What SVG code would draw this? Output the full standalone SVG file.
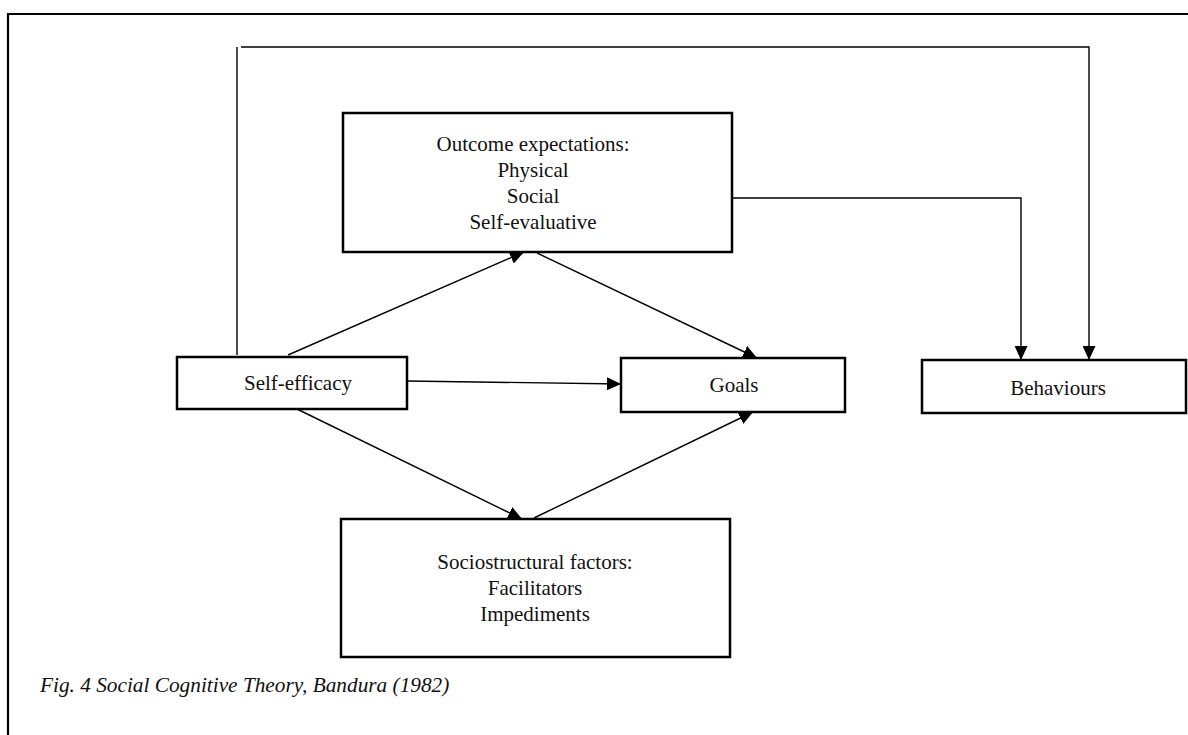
<svg xmlns="http://www.w3.org/2000/svg" width="1188" height="735" viewBox="0 0 1188 735">
  <style>
    .box { fill: #ffffff; stroke: #000000; stroke-width: 2.5; }
    .lbl { font-size: 21px; fill: #111111; text-anchor: middle; }
    .cap { font-size: 21.3px; font-style: italic; fill: #111111; }
    .conn { fill: none; stroke: #000000; stroke-width: 1.4; }
    .frame { fill: none; stroke: #000000; stroke-width: 2.2; }
  </style>
  <defs>
    <marker id="arrow" viewBox="0 0 14 13" refX="14" refY="6.5" markerWidth="14" markerHeight="13" markerUnits="userSpaceOnUse" orient="auto">
      <path d="M0,0 L14,6.5 L0,13 Z" fill="#000000"/>
    </marker>
  </defs>
  <rect width="1188" height="735" fill="#ffffff"/>
  <g id="frame">
    <path class="frame" d="M8,735 L8,14 L1188,14"/>
  </g>
  <g id="connectors">
    <path class="conn" d="M237,355 L237,47"/>
    <path class="conn" d="M241,47 L1089,47 L1089,360" marker-end="url(#arrow)"/>
    <path class="conn" d="M733,198 L1021,198 L1021,360" marker-end="url(#arrow)"/>
    <path class="conn" d="M288,355 L524,252" marker-end="url(#arrow)"/>
    <path class="conn" d="M537,253 L757,358" marker-end="url(#arrow)"/>
    <path class="conn" d="M407,381 L621,384" marker-end="url(#arrow)"/>
    <path class="conn" d="M297,409 L522,519" marker-end="url(#arrow)"/>
    <path class="conn" d="M534,518 L753,412" marker-end="url(#arrow)"/>
  </g>
  <g font-family="Liberation Serif, DejaVu Serif, serif">
    <g id="outcome">
      <rect class="box" x="343" y="113" width="389" height="139"/>
      <text class="lbl" x="533" y="151">Outcome expectations:</text>
      <text class="lbl" x="533" y="177">Physical</text>
      <text class="lbl" x="533" y="203">Social</text>
      <text class="lbl" x="533" y="229">Self-evaluative</text>
    </g>
    <g id="self-efficacy">
      <rect class="box" x="177" y="357" width="230" height="52"/>
      <text class="lbl" x="298" y="390">Self-efficacy</text>
    </g>
    <g id="goals">
      <rect class="box" x="621" y="358" width="224" height="54"/>
      <text class="lbl" x="734" y="392">Goals</text>
    </g>
    <g id="behaviours">
      <rect class="box" x="922" y="360" width="264" height="53"/>
      <text class="lbl" x="1058" y="395">Behaviours</text>
    </g>
    <g id="sociostructural">
      <rect class="box" x="341" y="519" width="389" height="138"/>
      <text class="lbl" x="535" y="569">Sociostructural factors:</text>
      <text class="lbl" x="535" y="595">Facilitators</text>
      <text class="lbl" x="535" y="621">Impediments</text>
    </g>
    <g id="caption">
      <text class="cap" x="40" y="692">Fig. 4 Social Cognitive Theory, Bandura (1982)</text>
    </g>
  </g>
</svg>
